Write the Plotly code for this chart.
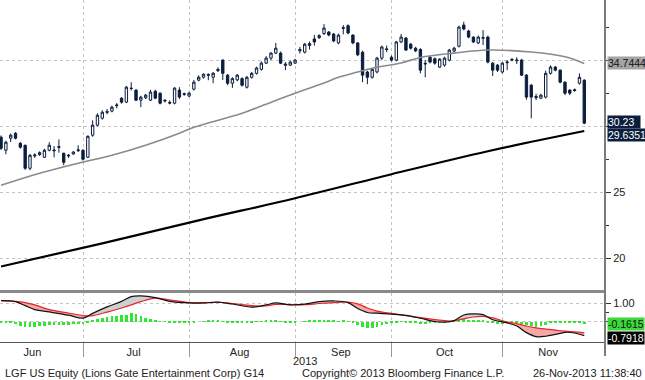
import plotly.graph_objects as go
import pandas as pd

# ---------------- calendar (NYSE trading days) ----------------
HOLIDAYS = ["2013-07-04", "2013-09-02", "2013-11-28"]
CAL = [d.strftime("%Y-%m-%d") for d in pd.bdate_range("2013-06-03", "2013-11-29")
       if d.strftime("%Y-%m-%d") not in HOLIDAYS]
POS = {d: i for i, d in enumerate(CAL)}

# ---------------- data ----------------
START_DATE = "2013-06-06"
opens = [29.17, 28.18, 29.09, 29.47, 28.71, 28.56, 26.82, 27.75, 27.85, 27.65,
         28.18, 28.20, 28.40, 27.95, 27.75, 27.90, 28.15, 28.18, 27.65, 29.32,
         30.08, 30.60, 31.10, 31.14, 31.55, 32.12, 31.82, 32.88, 32.73, 31.97,
         32.15, 31.97, 32.65, 32.50, 31.90, 31.80, 31.74, 32.73, 32.40, 32.28,
         32.80, 33.48, 33.70, 33.90, 33.70, 34.20, 35.00, 33.86, 33.25, 33.50,
         33.60, 32.95, 33.70, 34.00, 34.30, 34.77, 35.15, 35.53, 35.53, 34.60,
         34.62, 34.77, 35.70, 35.60, 36.10, 36.60, 36.70, 37.00, 37.12, 36.97,
         36.30, 37.40, 37.60, 36.89, 36.30, 35.60, 34.10, 33.70, 34.10, 35.15,
         35.85, 35.22, 35.00, 36.37, 36.67, 36.20, 35.90, 35.80, 34.70, 35.22,
         35.10, 34.47, 34.62, 35.00, 35.68, 36.05, 37.65, 37.20, 36.74, 36.30,
         36.65, 36.74, 34.77, 34.62, 34.10, 34.80, 35.00, 34.95, 35.00, 33.86,
         33.10, 32.15, 32.12, 32.20, 34.00, 34.47, 34.24, 33.33, 32.73, 32.70,
         33.25, 33.48]
highs = [29.30, 28.90, 29.45, 29.55, 28.80, 28.60, 27.90, 27.95, 28.10, 28.30,
         28.79, 28.50, 29.00, 28.00, 27.90, 28.10, 28.56, 28.25, 29.30, 30.45,
         30.98, 31.20, 31.30, 31.55, 31.75, 32.20, 33.05, 33.33, 32.80, 32.30,
         32.45, 32.75, 32.75, 32.55, 32.05, 31.95, 32.95, 32.95, 32.55, 32.60,
         33.50, 33.85, 34.00, 34.00, 34.10, 34.45, 35.05, 33.95, 33.70, 33.95,
         33.70, 33.80, 34.10, 34.50, 34.90, 35.30, 35.60, 36.30, 35.65, 34.85,
         34.95, 35.10, 36.00, 36.30, 36.40, 36.90, 36.95, 37.72, 37.20, 37.05,
         37.00, 37.65, 37.70, 36.95, 36.35, 35.70, 34.20, 34.40, 35.25, 36.10,
         36.10, 35.35, 36.45, 36.97, 36.75, 36.30, 36.00, 35.90, 35.00, 35.30,
         35.20, 35.15, 35.25, 35.85, 36.00, 37.60, 37.90, 37.30, 36.80, 36.85,
         37.27, 36.85, 34.85, 34.70, 34.85, 35.00, 35.15, 35.22, 35.10, 33.95,
         33.20, 32.45, 32.45, 34.20, 34.60, 34.55, 34.30, 33.40, 32.80, 32.85,
         34.00, 33.55]
lows = [28.20, 27.88, 28.80, 29.00, 28.30, 26.70, 26.67, 27.60, 27.75, 27.60,
        28.10, 27.65, 28.00, 27.05, 27.60, 27.85, 28.05, 27.40, 27.60, 29.20,
        30.00, 30.50, 30.90, 31.05, 31.35, 31.70, 31.75, 32.70, 31.90, 31.44,
        32.05, 31.90, 32.05, 31.65, 31.80, 31.65, 31.65, 32.05, 32.30, 32.20,
        32.70, 33.40, 33.60, 33.48, 33.25, 34.10, 33.50, 33.10, 32.90, 33.40,
        33.00, 32.85, 33.60, 33.90, 34.20, 34.70, 35.00, 35.45, 34.70, 34.24,
        34.55, 34.70, 35.50, 35.50, 35.80, 36.10, 36.60, 36.90, 36.80, 36.35,
        36.20, 36.95, 36.95, 36.20, 35.30, 33.33, 33.18, 33.60, 34.00, 35.00,
        35.60, 34.90, 34.90, 36.30, 35.70, 35.80, 35.60, 34.00, 33.70, 34.75,
        34.65, 34.40, 34.50, 34.90, 35.60, 35.95, 37.25, 36.65, 36.30, 36.20,
        36.14, 34.75, 33.80, 34.10, 34.00, 34.24, 34.90, 34.70, 33.80, 32.00,
        30.60, 31.97, 32.05, 32.10, 33.90, 34.15, 33.25, 32.35, 32.35, 32.60,
        33.15, 30.15]
closes = [28.33, 28.79, 29.32, 29.09, 28.41, 26.82, 27.80, 27.82, 28.00, 28.18,
          28.56, 28.15, 28.45, 27.27, 27.80, 28.05, 28.20, 27.50, 29.24, 30.08,
          30.83, 31.06, 31.06, 31.44, 31.60, 31.82, 32.95, 32.85, 31.97, 32.20,
          32.35, 32.58, 32.12, 31.74, 31.95, 31.75, 32.88, 32.20, 32.45, 32.50,
          33.33, 33.70, 33.93, 33.86, 34.00, 34.30, 34.00, 33.25, 33.60, 33.86,
          33.10, 33.70, 34.00, 34.40, 34.77, 35.15, 35.53, 35.90, 34.77, 34.70,
          34.85, 35.00, 35.80, 36.20, 36.25, 36.37, 36.85, 37.42, 36.90, 36.45,
          36.89, 37.45, 37.05, 36.30, 35.40, 33.86, 33.70, 34.30, 35.15, 35.99,
          35.80, 35.00, 36.37, 36.74, 35.76, 35.90, 35.70, 34.24, 34.75, 34.85,
          34.77, 35.07, 35.15, 35.76, 35.90, 37.50, 37.35, 36.74, 36.37, 36.74,
          36.70, 34.85, 34.24, 34.24, 34.77, 34.85, 35.05, 35.00, 33.86, 32.20,
          32.20, 32.25, 32.35, 34.00, 34.47, 34.24, 33.33, 32.50, 32.50, 32.75,
          33.70, 30.23]

ma50_dates = ["2013-06-06", "2013-06-18", "2013-06-28", "2013-07-10", "2013-07-19",
              "2013-07-30", "2013-08-02", "2013-08-16", "2013-08-27", "2013-09-05",
              "2013-09-11", "2013-09-16", "2013-09-20", "2013-09-25", "2013-10-03",
              "2013-10-09", "2013-10-18", "2013-10-29", "2013-11-11", "2013-11-20",
              "2013-11-26"]
ma50_vals = [25.53, 26.44, 27.20, 27.80, 28.56, 29.47, 29.92, 30.98, 31.95, 32.75,
             33.26, 33.70, 34.10, 34.39, 34.78, 35.20, 35.53, 35.76, 35.61, 35.25,
             34.7444]

ma200_dates = ["2013-06-06", "2013-07-08", "2013-08-05", "2013-09-03", "2013-10-01",
               "2013-10-29", "2013-11-26"]
ma200_vals = [19.39, 21.14, 22.88, 24.55, 26.37, 28.11, 29.6351]

macd_dates = ["2013-06-06", "2013-06-11", "2013-06-13", "2013-06-17", "2013-06-20",
              "2013-06-26", "2013-07-01", "2013-07-03", "2013-07-09", "2013-07-12",
              "2013-07-16", "2013-07-18", "2013-07-23", "2013-07-26", "2013-08-01",
              "2013-08-06", "2013-08-09", "2013-08-14", "2013-08-20", "2013-08-23",
              "2013-08-27", "2013-08-30", "2013-09-05", "2013-09-10", "2013-09-13",
              "2013-09-18", "2013-09-20", "2013-09-24", "2013-09-26", "2013-10-01",
              "2013-10-04", "2013-10-09", "2013-10-14", "2013-10-16", "2013-10-18",
              "2013-10-22", "2013-10-24", "2013-10-28", "2013-10-30", "2013-11-04",
              "2013-11-06", "2013-11-08", "2013-11-12", "2013-11-14", "2013-11-18",
              "2013-11-20", "2013-11-22", "2013-11-26"]
macd_vals = [1.16, 1.10, 0.88, 0.66, 0.53, 0.35, 0.19, 0.45, 0.81, 1.12,
             1.38, 1.42, 1.33, 1.12, 1.03, 1.03, 1.08, 0.97, 0.80, 0.92,
             1.03, 0.92, 0.96, 1.10, 1.14, 1.05, 0.72, 0.50, 0.46, 0.41,
             0.34, 0.18, 0.00, -0.03, 0.05, 0.36, 0.42, 0.38, 0.10, -0.08,
             -0.25, -0.62, -0.84, -0.82, -0.72, -0.60, -0.64, -0.7918]
signal_vals = [1.16, 1.12, 1.05, 0.92, 0.66, 0.47, 0.33, 0.33, 0.52, 0.75,
               0.92, 1.10, 1.30, 1.20, 1.05, 1.03, 1.07, 1.00, 0.88, 0.86,
               0.95, 0.94, 0.93, 1.00, 1.05, 1.08, 0.98, 0.75, 0.58, 0.45,
               0.33, 0.22, 0.10, 0.05, 0.03, 0.15, 0.25, 0.28, 0.20, -0.03,
               -0.12, -0.25, -0.35, -0.42, -0.48, -0.54, -0.58, -0.6303]
hist_vals = [-0.03, -0.05, -0.08, -0.12, -0.25, -0.30, -0.30, -0.28, -0.25, -0.24,
             -0.22, -0.20, -0.20, -0.19, -0.20, -0.16, -0.14, -0.12, -0.04, 0.05,
             0.15, 0.20, 0.25, 0.28, 0.32, 0.36, 0.38, 0.45, 0.40, 0.30,
             0.20, 0.12, 0.08, 0.02, -0.02, -0.06, -0.05, -0.06, -0.06, -0.04,
             -0.05, 0.00, 0.02, 0.03, 0.04, 0.03, -0.02, -0.05, -0.06, -0.06,
             -0.07, -0.06, -0.05, -0.02, 0.01, 0.03, 0.05, 0.04, -0.02, -0.04,
             -0.05, -0.03, 0.00, 0.02, 0.04, 0.05, 0.06, 0.07, 0.06, 0.04,
             0.02, 0.03, 0.01, -0.05, -0.18, -0.30, -0.36, -0.34, -0.28, -0.20,
             -0.14, -0.10, -0.06, -0.02, -0.03, -0.05, -0.10, -0.12, -0.12, -0.10,
             -0.08, -0.06, -0.03, 0.02, 0.06, 0.10, 0.12, 0.11, 0.08, 0.06,
             0.04, -0.05, -0.10, -0.12, -0.12, -0.10, -0.08, -0.06, -0.12, -0.20,
             -0.27, -0.29, -0.26, -0.18, -0.08, -0.04, -0.03, -0.05, -0.04, -0.06,
             -0.08, -0.1615]

month_names = ["Jun", "Jul", "Aug", "Sep", "Oct", "Nov"]
price_ticks = [20, 25, 30, 35]
price_tick_text = ["20", "25", "", ""]

# ---------------- derived positions ----------------
s0 = POS[START_DATE]
n = len(closes)
xd = list(range(s0, s0 + n))
ddates = CAL[s0:s0 + n]

month_first, month_mid = [], []
for m in range(6, 12):
    ids = [i for i, d in enumerate(CAL) if int(d[5:7]) == m]
    month_first.append(ids[0])
    month_mid.append((ids[0] + ids[-1]) / 2)

ma50_x = [POS[d] for d in ma50_dates]
ma200_x = [POS[d] for d in ma200_dates]
macd_x = [POS[d] for d in macd_dates]

X_RANGE = [2.78, 128.3]
NAVY = "#0b1e3d"
FONT = "Liberation Sans"

fig = go.Figure()

# MACD fills (gray where MACD above signal, pink where below)
segs = []
cur = None
for k in range(len(macd_x)):
    diff = macd_vals[k] - signal_vals[k]
    sgn = diff >= 0
    pt = (macd_x[k], macd_vals[k], signal_vals[k])
    if cur is None:
        cur = [sgn, [pt]]
        continue
    pdiff = cur[1][-1][1] - cur[1][-1][2]
    if (diff >= 0) != (pdiff >= 0) and abs(diff - pdiff) > 1e-9:
        t = pdiff / (pdiff - diff)
        x0, m0, s_0 = cur[1][-1]
        xc = x0 + t * (macd_x[k] - x0)
        yc = m0 + t * (macd_vals[k] - m0)
        cur[1].append((xc, yc, yc))
        segs.append(cur)
        cur = [sgn, [(xc, yc, yc), pt]]
    else:
        cur[1].append(pt)
segs.append(cur)
for sgn, pts in segs:
    xs = [p[0] for p in pts] + [p[0] for p in reversed(pts)]
    ys = [p[1] for p in pts] + [p[2] for p in reversed(pts)]
    fig.add_trace(go.Scatter(x=xs, y=ys, xaxis="x2", yaxis="y2", fill="toself",
                             fillcolor="#cfcfcf" if sgn else "#f6a8a8",
                             line=dict(width=0), mode="lines", hoverinfo="skip",
                             showlegend=False))

fig.add_trace(go.Bar(x=xd, y=hist_vals, xaxis="x2", yaxis="y2", width=0.55,
                     marker=dict(color="#2ee82e", line=dict(width=0)), showlegend=False))
fig.add_trace(go.Scatter(x=macd_x, y=signal_vals, xaxis="x2", yaxis="y2", mode="lines",
                         line=dict(color="#e8252b", width=1.2, shape="spline"), showlegend=False))
fig.add_trace(go.Scatter(x=macd_x, y=macd_vals, xaxis="x2", yaxis="y2", mode="lines",
                         line=dict(color="#111111", width=1.2, shape="spline"), showlegend=False))

# price panel
fig.add_trace(go.Scatter(x=ma200_x, y=ma200_vals, mode="lines",
                         line=dict(color="#000000", width=2.2, shape="spline"), showlegend=False))
fig.add_trace(go.Scatter(x=ma50_x, y=ma50_vals, mode="lines",
                         line=dict(color="#8a8a8a", width=1.6, shape="spline"), showlegend=False))
fig.add_trace(go.Candlestick(x=xd, open=opens, high=highs, low=lows, close=closes,
                             text=ddates, whiskerwidth=0,
                             increasing=dict(line=dict(color=NAVY, width=1), fillcolor="#ffffff"),
                             decreasing=dict(line=dict(color=NAVY, width=1), fillcolor=NAVY),
                             showlegend=False))

grid = dict(showgrid=True, gridcolor="#c4c4c4", griddash="dot", gridwidth=1)

fig.update_layout(
    width=645, height=380,
    margin=dict(l=0, r=40, t=0, b=38),
    paper_bgcolor="white", plot_bgcolor="white",
    font=dict(family=FONT, size=11, color="#222"),
    bargap=0,
    xaxis=dict(domain=[0, 1], range=X_RANGE, anchor="y", rangeslider=dict(visible=False),
               tickvals=month_first, showticklabels=False, ticks="", zeroline=False, **grid),
    yaxis=dict(domain=[0.1477, 1], range=[17.5, 39.545], side="right", anchor="x",
               tickvals=price_ticks, ticktext=price_tick_text, ticks="outside", ticklen=5,
               tickcolor="#333", tickfont=dict(size=11, color="#222"), zeroline=False,
               minor=dict(tickvals=[22.5, 27.5, 32.5, 37.5], ticks="outside", ticklen=3,
                          tickcolor="#333", showgrid=False),
               **grid),
    xaxis2=dict(domain=[0, 1], range=X_RANGE, anchor="y2", tickvals=month_mid,
                ticktext=month_names, ticks="", showgrid=False, zeroline=False,
                showline=True, linecolor="#555", linewidth=1,
                tickfont=dict(size=11, color="#222"),
                minor=dict(tickvals=month_first, ticks="outside", ticklen=14,
                           tickcolor="#9a9a9a", showgrid=True, gridcolor="#c4c4c4",
                           griddash="dot")),
    yaxis2=dict(domain=[0, 0.1433], range=[-1.139, 1.583], side="right", anchor="x2",
                tickvals=[0, 1.0], ticktext=["", "1.00"], ticks="outside", ticklen=5,
                tickcolor="#333", tickfont=dict(size=11, color="#222"), zeroline=False,
                minor=dict(tickvals=[0.5], ticks="outside", ticklen=3, tickcolor="#333"),
                **grid),
)

def py(ypix):
    return (342 - ypix) / 342

def px(xpix):
    return xpix / 605

shapes = [
    dict(type="line", xref="paper", yref="paper", x0=0, x1=1, y0=py(291.5), y1=py(291.5),
         line=dict(color="#8a8a8a", width=3)),
    dict(type="line", xref="paper", yref="paper", x0=1.0, x1=1.0, y0=py(356), y1=1,
         line=dict(color="#7a7a7a", width=2)),
]
fig.update_layout(shapes=shapes)

def vlabel(text, y, yref, bg, fg):
    fig.add_annotation(x=1.0, xref="paper", xanchor="left", xshift=2, y=y, yref=yref,
                       yanchor="middle", text=text, showarrow=False, bgcolor=bg,
                       borderpad=0, font=dict(family=FONT, size=10.5, color=fg))

vlabel(f"{ma200_vals[-1]:.4f}", ma200_vals[-1] - 0.33, "y", NAVY, "#ffffff")
vlabel(f"{closes[-1]:.2f}  ", closes[-1] + 0.1, "y", NAVY, "#ffffff")
vlabel(f"{ma50_vals[-1]:.4f}", ma50_vals[-1], "y", "#a4a4a4", "#111111")
vlabel(f"{hist_vals[-1]:.4f}", hist_vals[-1], "y2", "#3ad83a", "#111111")
vlabel(f"{macd_vals[-1]:.4f}", macd_vals[-1] - 0.1, "y2", "#000000", "#ffffff")

def note(text, xpix, ypix, anchor="left"):
    fig.add_annotation(x=px(xpix), xref="paper", xanchor=anchor, y=py(ypix), yref="paper",
                       yanchor="middle", text=text, showarrow=False,
                       font=dict(family=FONT, size=11, color="#222"))

note("2013", 305, 361, "center")
note("LGF US Equity (Lions Gate Entertainment Corp) G14", 3, 373)
note("Copyright© 2013 Bloomberg Finance L.P.", 300, 373)
note("26-Nov-2013 11:38:40", 644, 373, "right")

fig.write_html("out.html", config={"displayModeBar": False},
               post_script="document.body.style.margin='0px';")
